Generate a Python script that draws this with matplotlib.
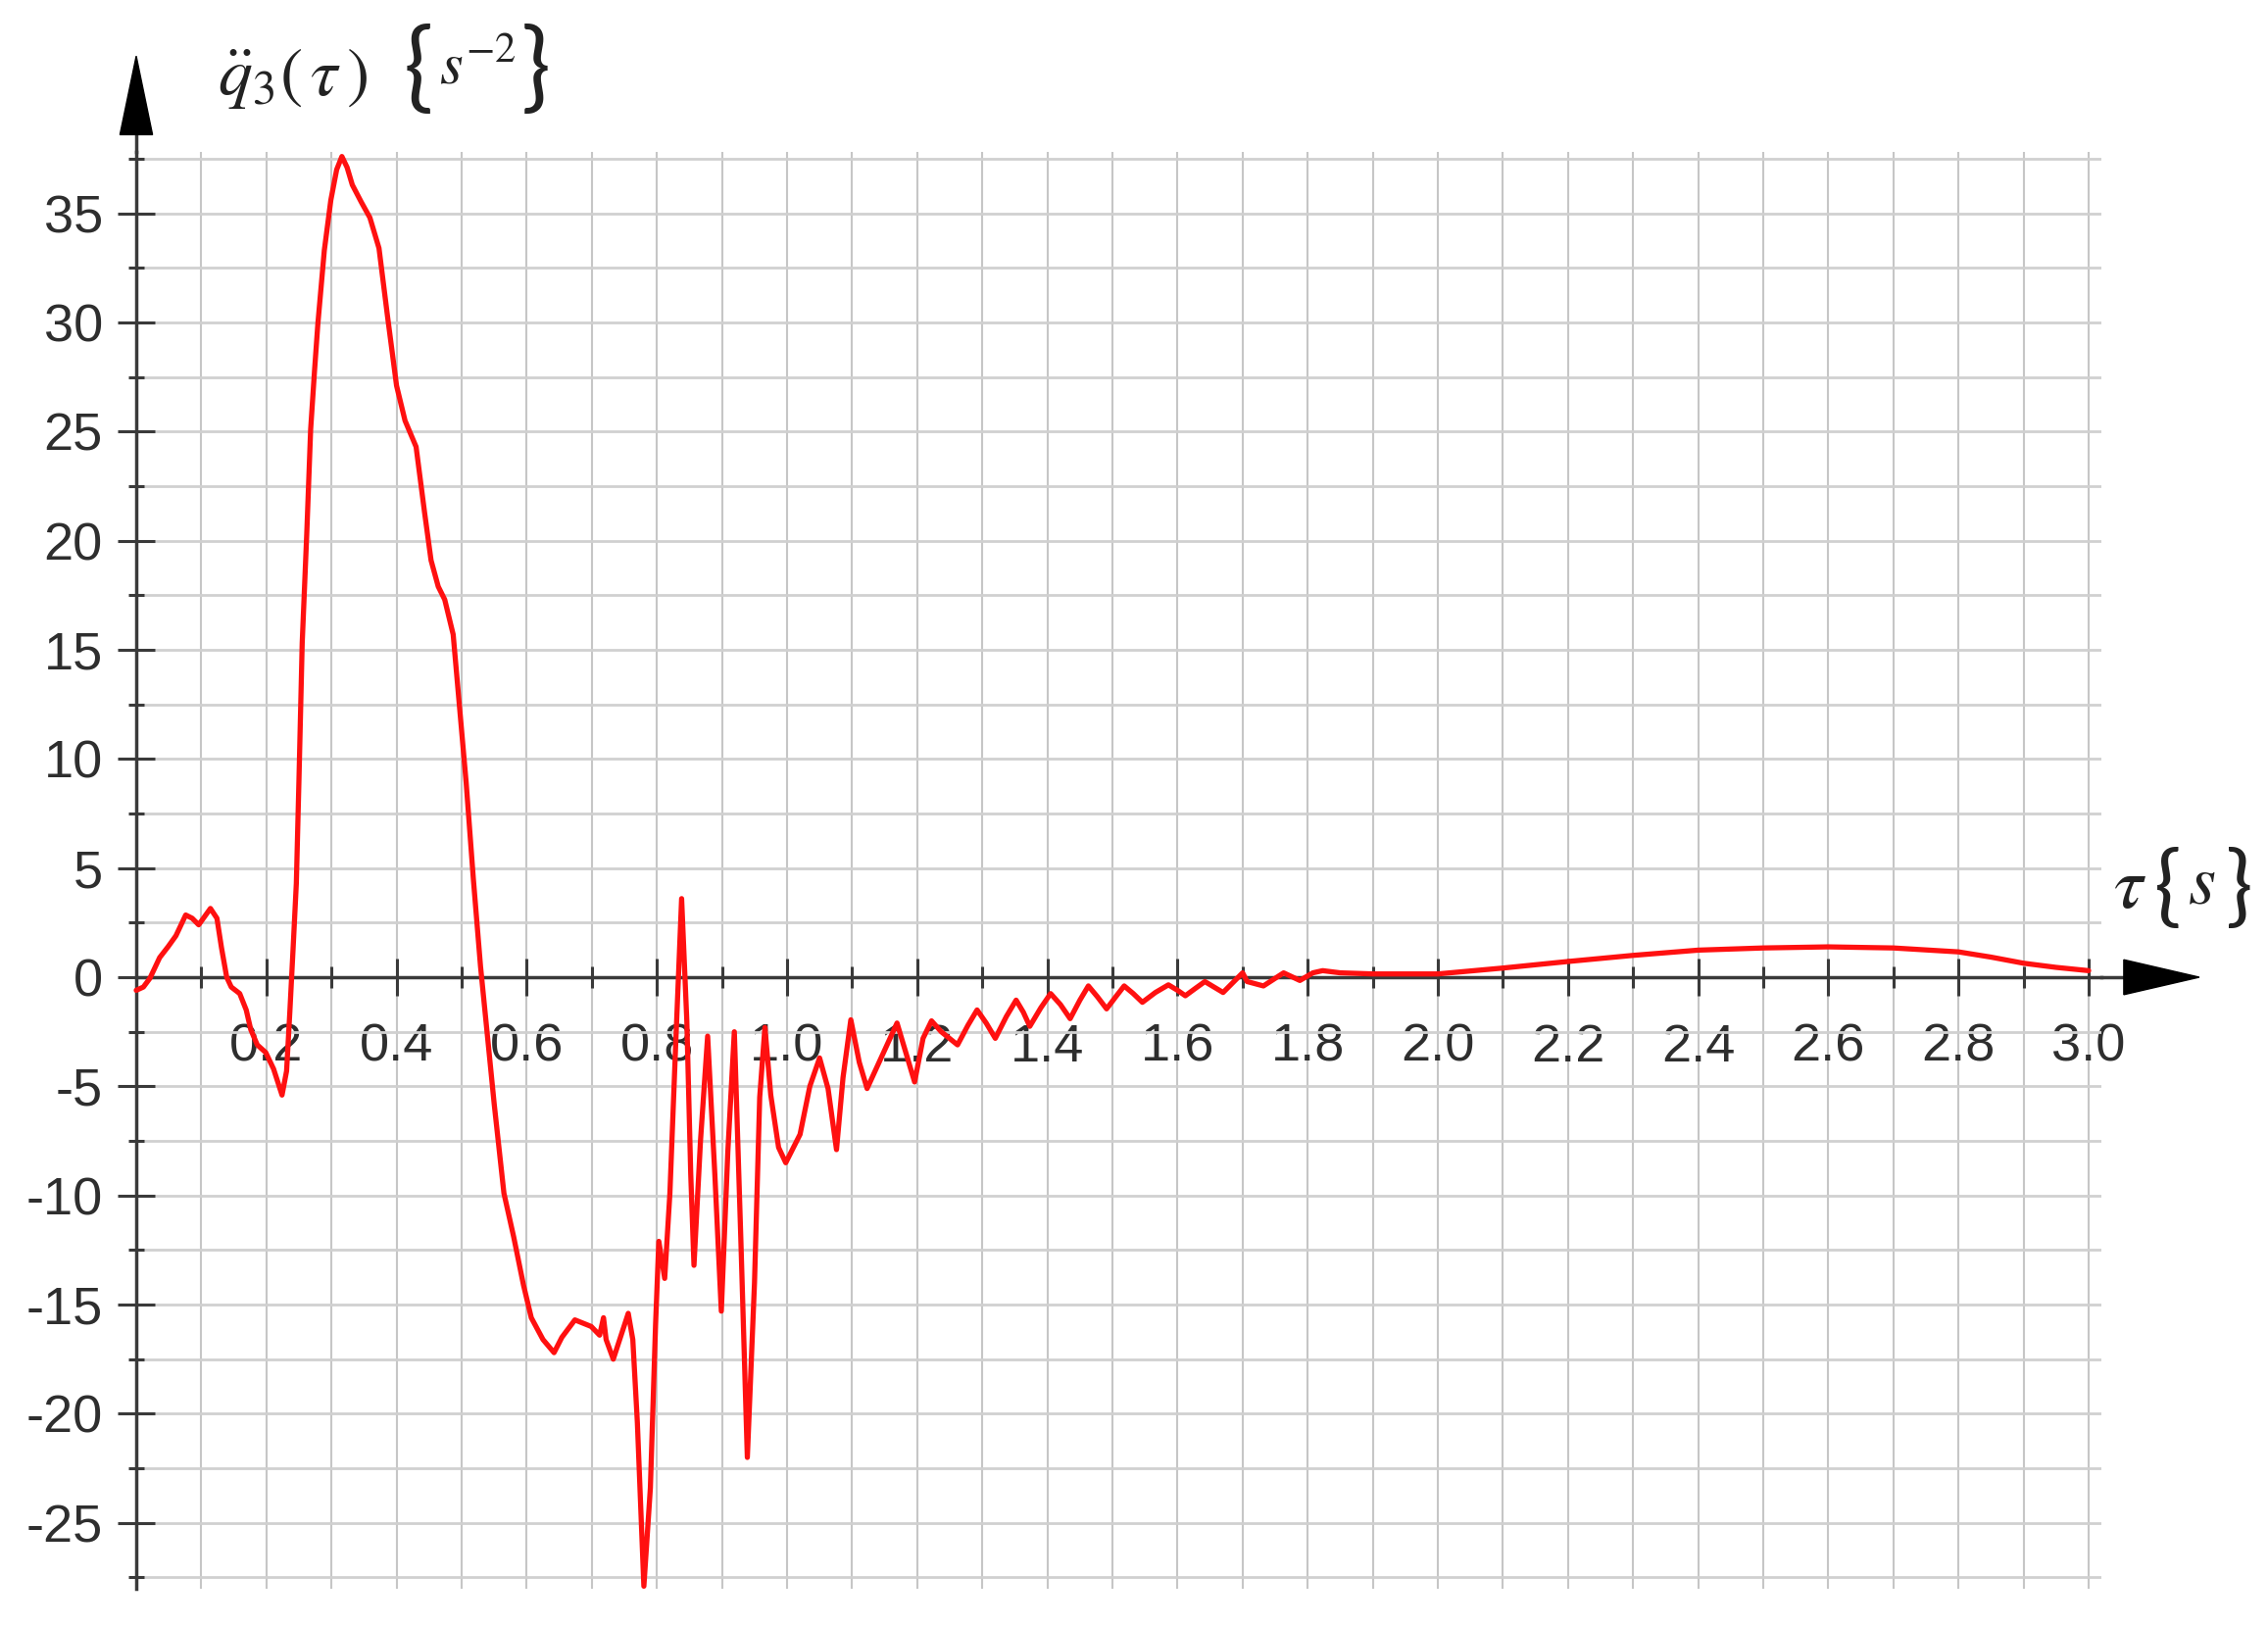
"""Maple-style plot of the angular acceleration q3''(tau)."""

import matplotlib
matplotlib.use("Agg")
import matplotlib.pyplot as plt
from matplotlib.patches import Polygon
import numpy as np

# --- Data ---
TAU = [
    0.000, 0.011, 0.021, 0.036, 0.049, 0.061, 0.076, 0.086, 0.096, 0.114,
    0.124, 0.131, 0.139, 0.146, 0.159, 0.169, 0.176, 0.186, 0.199, 0.211,
    0.224, 0.231, 0.236, 0.241, 0.246, 0.250, 0.255, 0.262, 0.268, 0.274,
    0.279, 0.289, 0.299, 0.308, 0.316, 0.324, 0.332, 0.346, 0.359, 0.373,
    0.386, 0.400, 0.413, 0.430, 0.443, 0.453, 0.464, 0.474, 0.487, 0.497,
    0.507, 0.518, 0.529, 0.540, 0.550, 0.565, 0.580, 0.595, 0.607, 0.625,
    0.642, 0.654, 0.674, 0.699, 0.712, 0.718, 0.722, 0.733, 0.745, 0.756,
    0.763, 0.770, 0.780, 0.790, 0.798, 0.803, 0.812, 0.820, 0.829, 0.838,
    0.846, 0.852, 0.857, 0.867, 0.878, 0.889, 0.899, 0.909, 0.919, 0.929,
    0.939, 0.950, 0.958, 0.966, 0.975, 0.987, 0.998, 1.020, 1.035, 1.050,
    1.063, 1.076, 1.086, 1.098, 1.111, 1.123, 1.146, 1.169, 1.184, 1.196,
    1.209, 1.222, 1.237, 1.262, 1.278, 1.292, 1.306, 1.320, 1.337, 1.352,
    1.363, 1.373, 1.390, 1.405, 1.420, 1.435, 1.450, 1.463, 1.477, 1.491,
    1.505, 1.518, 1.532, 1.546, 1.566, 1.586, 1.600, 1.612, 1.628, 1.642,
    1.656, 1.670, 1.700, 1.707, 1.732, 1.763, 1.788, 1.808, 1.823, 1.850,
    1.900, 1.950, 2.000, 2.100, 2.200, 2.300, 2.400, 2.500, 2.600, 2.700,
    2.800, 2.850, 2.900, 2.950, 3.000,
]
Q3DD = [
    -0.60, -0.45, -0.05, 0.90, 1.40, 1.90, 2.85, 2.70, 2.40, 3.15,
    2.70, 1.35, 0.00, -0.45, -0.75, -1.50, -2.40, -3.10, -3.45, -4.20,
    -5.40, -4.30, -1.60, 1.30, 4.30, 9.00, 15.3, 20.3, 25.1, 27.8,
    29.9, 33.3, 35.6, 37.0, 37.6, 37.1, 36.3, 35.5, 34.8, 33.4,
    30.3, 27.1, 25.5, 24.3, 21.3, 19.1, 17.9, 17.3, 15.7, 12.3,
    8.90, 4.50, 0.50, -2.80, -5.80, -9.90, -11.9, -14.1, -15.6, -16.6,
    -17.2, -16.5, -15.7, -16.0, -16.4, -15.6, -16.6, -17.5, -16.4, -15.4,
    -16.6, -20.4, -27.9, -23.4, -15.9, -12.1, -13.8, -9.90, -3.00, 3.60,
    -2.00, -9.00, -13.2, -7.50, -2.70, -9.00, -15.3, -8.00, -2.50, -12.0,
    -22.0, -14.0, -5.50, -2.30, -5.40, -7.80, -8.50, -7.20, -5.00, -3.70,
    -5.10, -7.90, -4.60, -1.95, -3.90, -5.10, -3.60, -2.10, -3.60, -4.80,
    -2.80, -2.00, -2.50, -3.10, -2.20, -1.50, -2.10, -2.80, -1.80, -1.05,
    -1.60, -2.25, -1.40, -0.75, -1.25, -1.90, -1.05, -0.40, -0.90, -1.45,
    -0.90, -0.40, -0.75, -1.15, -0.70, -0.35, -0.60, -0.85, -0.50, -0.20,
    -0.45, -0.70, 0.20, -0.20, -0.40, 0.20, -0.15, 0.20, 0.30, 0.20,
    0.15, 0.15, 0.15, 0.42, 0.72, 1.00, 1.24, 1.34, 1.39, 1.34,
    1.16, 0.92, 0.64, 0.45, 0.30,
]

X_MAJOR = [0.2, 0.4, 0.6, 0.8, 1.0, 1.2, 1.4, 1.6, 1.8, 2.0, 2.2, 2.4, 2.6, 2.8, 3.0]
X_LABELS = ["0.2", "0.4", "0.6", "0.8", "1.0", "1.2", "1.4", "1.6",
            "1.8", "2.0", "2.2", "2.4", "2.6", "2.8", "3.0"]
Y_MAJOR = [-25, -20, -15, -10, -5, 0, 5, 10, 15, 20, 25, 30, 35]
Y_LABELS = ["-25", "-20", "-15", "-10", "-5", "0", "5", "10", "15", "20", "25", "30", "35"]

XLIM = (0.0, 3.02)
YLIM = (-28.0, 37.8)

W, H = 2314, 1660
AXIS_C = "#3a3a3a"
TEXT_C = "#2e2e2e"
LABEL_C = "#222222"
BRACE_FAM = ["Lato", "Liberation Sans"]

plt.rcParams.update({
    "font.family": ["Liberation Sans", "DejaVu Sans"],
    "mathtext.fontset": "stix",
    "axes.unicode_minus": False,
})


def px(x, y):
    """Reference pixel (from top-left) -> figure fraction."""
    return x / W, 1 - y / H


fig = plt.figure(figsize=(W / 100, H / 100), dpi=100)
ax = fig.add_axes([139 / W, (H - 1620.6) / H, 2005.3 / W, 1465.4 / H])
ax.set_xlim(*XLIM)
ax.set_ylim(*YLIM)

# axes through the origin
for s in ["top", "right"]:
    ax.spines[s].set_visible(False)
for s in ["left", "bottom"]:
    ax.spines[s].set_position(("data", 0))
    ax.spines[s].set_color(AXIS_C)
    ax.spines[s].set_linewidth(2.5)

ax.set_xticks(X_MAJOR, X_LABELS)
ax.set_xticks(np.arange(0.1, 3.0, 0.2), minor=True)
ax.set_yticks(Y_MAJOR, Y_LABELS)
ax.set_yticks(np.arange(-27.5, 38, 5.0), minor=True)

ax.tick_params(which="both", direction="inout", color=AXIS_C, width=2.2)
ax.tick_params(axis="x", which="major", length=27, pad=20, labelsize=39, labelcolor=TEXT_C)
ax.tick_params(axis="x", which="minor", length=16)
ax.tick_params(axis="y", which="major", length=27, pad=11, labelsize=39, labelcolor=TEXT_C)
ax.tick_params(axis="y", which="minor", length=12)

ax.xaxis.grid(True, which="both", color="#c6c6c6", linewidth=1.5)
ax.yaxis.grid(True, which="both", color="#d0d0d0", linewidth=2.0)
ax.set_axisbelow(True)

ax.plot(TAU, Q3DD, color="#ff1010", linewidth=3.8, zorder=5, clip_on=False,
        solid_joinstyle="round", solid_capstyle="round")

# axis extensions and arrow heads
ax.plot([0, 0], [YLIM[1], 38.8], color=AXIS_C, lw=2.5, clip_on=False)
ax.plot([XLIM[1], 3.06], [0, 0], color=AXIS_C, lw=2.5, clip_on=False)
ax.add_patch(Polygon([[-0.025, 38.6], [0.025, 38.6], [0.0, 42.2]], closed=True,
                     color="black", clip_on=False, zorder=6))
ax.add_patch(Polygon([[3.054, -0.8], [3.054, 0.8], [3.17, 0.0]], closed=True,
                     color="black", clip_on=False, zorder=6))

# y title: q3''(tau) {s^-2}
fig.text(*px(222, 80), r"$\ddot{q}_3\left(\,\tau\,\right)$", fontsize=50,
         ha="left", va="center", color=LABEL_C)
fig.text(*px(412, 72), "{", fontsize=72, family=BRACE_FAM,
         ha="left", va="center", color=LABEL_C)
fig.text(*px(448, 70), r"$s^{-2}$", fontsize=44,
         ha="left", va="center", color=LABEL_C)
fig.text(*px(562, 72), "}", fontsize=72, family=BRACE_FAM,
         ha="right", va="center", color=LABEL_C)

# x title: tau {s}
fig.text(*px(2156, 906), r"$\tau$", fontsize=54,
         ha="left", va="center", color=LABEL_C)
fig.text(*px(2198, 908), "{", fontsize=66, family=BRACE_FAM,
         ha="left", va="center", color=LABEL_C)
fig.text(*px(2232, 904), r"$s$", fontsize=52,
         ha="left", va="center", color=LABEL_C)
fig.text(*px(2298, 908), "}", fontsize=66, family=BRACE_FAM,
         ha="right", va="center", color=LABEL_C)

fig.savefig("out.png", dpi=100, facecolor="white")
